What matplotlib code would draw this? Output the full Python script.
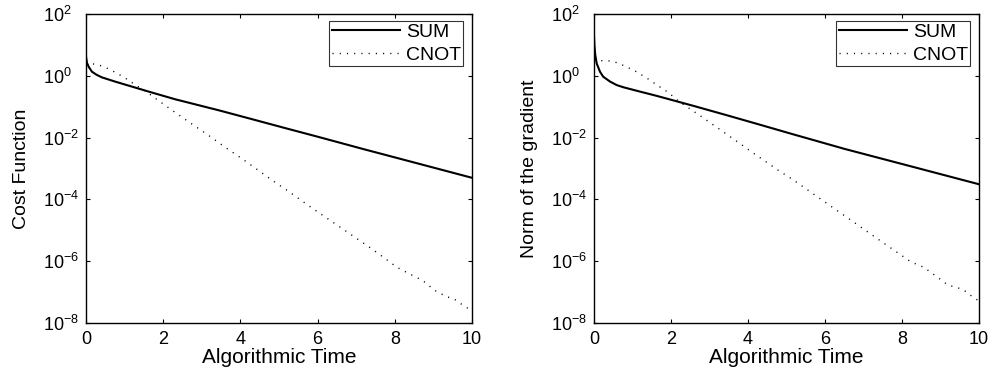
import matplotlib
matplotlib.use("Agg")
import matplotlib.pyplot as plt
import numpy as np

plt.rcParams["font.family"] = ["Liberation Sans", "DejaVu Sans"]
plt.rcParams["mathtext.fontset"] = "custom"
plt.rcParams["mathtext.rm"] = "Liberation Sans"
plt.rcParams["mathtext.it"] = "Liberation Sans:italic"
plt.rcParams["mathtext.bf"] = "Liberation Sans:bold"

# ---- cost function vs algorithmic time ----
t_cost_sum = [0, 0.025, 0.07, 0.155, 0.28, 0.41, 0.76, 1.19, 1.62, 2.31, 3.45,
              4.32, 5.18, 6.0, 7.18, 8.0, 9.0, 10.0]
cost_sum = [4.17, 2.63, 1.95, 1.35, 1.07, 0.891, 0.646, 0.447, 0.309, 0.174,
            0.0759, 0.0389, 0.0200, 0.0107, 4.27e-3, 2.29e-3, 1.07e-3, 5.0e-4]

t_cost_cnot = [0, 0.2, 0.41, 0.59, 0.76, 0.93, 1.1, 1.26, 1.58, 1.73, 2.19, 2.65,
               3.12, 3.58, 4.05, 4.5, 4.97, 5.11, 5.89, 6.67, 7.44, 8.06, 8.38,
               8.73, 9.02, 9.34, 9.52, 9.84, 10.0]
cost_cnot = [2.75, 2.40, 2.09, 1.66, 1.29, 0.977, 0.724, 0.525, 0.295, 0.214,
             0.0832, 0.0331, 0.0132, 5.13e-3, 2.04e-3, 8.13e-4, 3.09e-4, 2.40e-4,
             4.90e-5, 1.07e-5, 2.34e-6, 6.31e-7, 3.89e-7, 2.34e-7, 1.17e-7,
             7.08e-8, 6.17e-8, 3.24e-8, 2.63e-8]

# ---- norm of the gradient vs algorithmic time ----
t_grad_sum = [0, 0.01, 0.03, 0.07, 0.156, 0.24, 0.42, 0.59, 0.76, 1.19, 1.63,
              2.6, 3.46, 4.33, 5.19, 6.52, 8.0, 10.0]
grad_sum = [20.0, 10.0, 5.01, 2.51, 1.35, 0.933, 0.646, 0.501, 0.427, 0.309,
            0.224, 0.105, 0.0525, 0.0257, 0.0126, 4.27e-3, 1.40e-3, 3.09e-4]

t_grad_cnot = [0, 0.2, 0.42, 0.61, 0.79, 0.98, 1.15, 1.31, 1.48, 1.63, 1.8, 1.94,
               2.23, 2.54, 2.86, 3.17, 3.48, 3.79, 4.10, 4.49, 4.81, 5.13, 5.90,
               6.67, 7.45, 8.23, 8.57, 8.88, 9.19, 9.58, 9.88, 10.0]
grad_cnot = [3.09, 3.09, 3.02, 2.63, 2.09, 1.62, 1.26, 0.933, 0.692, 0.501, 0.372,
             0.282, 0.141, 0.0776, 0.0417, 0.0224, 0.0120, 6.46e-3, 3.39e-3,
             1.58e-3, 8.32e-4, 4.68e-4, 1.0e-4, 2.14e-5, 4.47e-6, 9.55e-7,
             6.31e-7, 3.31e-7, 1.70e-7, 1.23e-7, 6.31e-8, 5.25e-8]

series_labels = ["SUM", "CNOT"]
x_ticks = [0, 2, 4, 6, 8, 10]
y_ticks = [1e-8, 1e-6, 1e-4, 1e-2, 1e0, 1e2]
x_label = "Algorithmic Time"
y_labels = ["Cost Function", "Norm of the gradient"]

fig = plt.figure(figsize=(9.92, 3.72), dpi=100)
ax_left = fig.add_axes([86 / 992, 49 / 372, 386 / 992, 309 / 372])
ax_right = fig.add_axes([594 / 992, 49 / 372, 385 / 992, 309 / 372])

panels = [
    (ax_left, t_cost_sum, cost_sum, t_cost_cnot, cost_cnot, y_labels[0]),
    (ax_right, t_grad_sum, grad_sum, t_grad_cnot, grad_cnot, y_labels[1]),
]

for ax, ts, ys, tc, yc, ylab in panels:
    ax.semilogy(ts, ys, color="black", lw=1.5, label=series_labels[0])
    ax.semilogy(tc, yc, color="black", lw=1.0, linestyle=(0, (0.8, 4.4)),
                label=series_labels[1])
    ax.set_xlim(0, 10)
    ax.set_ylim(1e-8, 1e2)
    ax.set_xticks(x_ticks)
    ax.set_yticks(y_ticks)
    ax.yaxis.set_minor_locator(matplotlib.ticker.NullLocator())
    ax.tick_params(which="both", direction="in", top=True, right=True,
                   length=3, width=0.8, labelsize=13)
    ax.tick_params(axis="x", pad=6)
    ax.tick_params(axis="y", pad=31)
    for lbl in ax.get_yticklabels():
        lbl.set_horizontalalignment("left")
    for sp in ax.spines.values():
        sp.set_linewidth(1.0)
    ax.set_xlabel(x_label, fontsize=15, labelpad=0)
    ax.set_ylabel(ylab, fontsize=14, labelpad=9)
    leg = ax.legend(loc="upper right", bbox_to_anchor=(0.977, 0.977),
                    borderaxespad=0, fontsize=14, frameon=True, fancybox=False,
                    handlelength=3.5, handletextpad=0.3, borderpad=0.12,
                    labelspacing=0.25)
    leg.get_frame().set_edgecolor("black")
    leg.get_frame().set_linewidth(0.8)

fig.savefig("out.png", dpi=100)
